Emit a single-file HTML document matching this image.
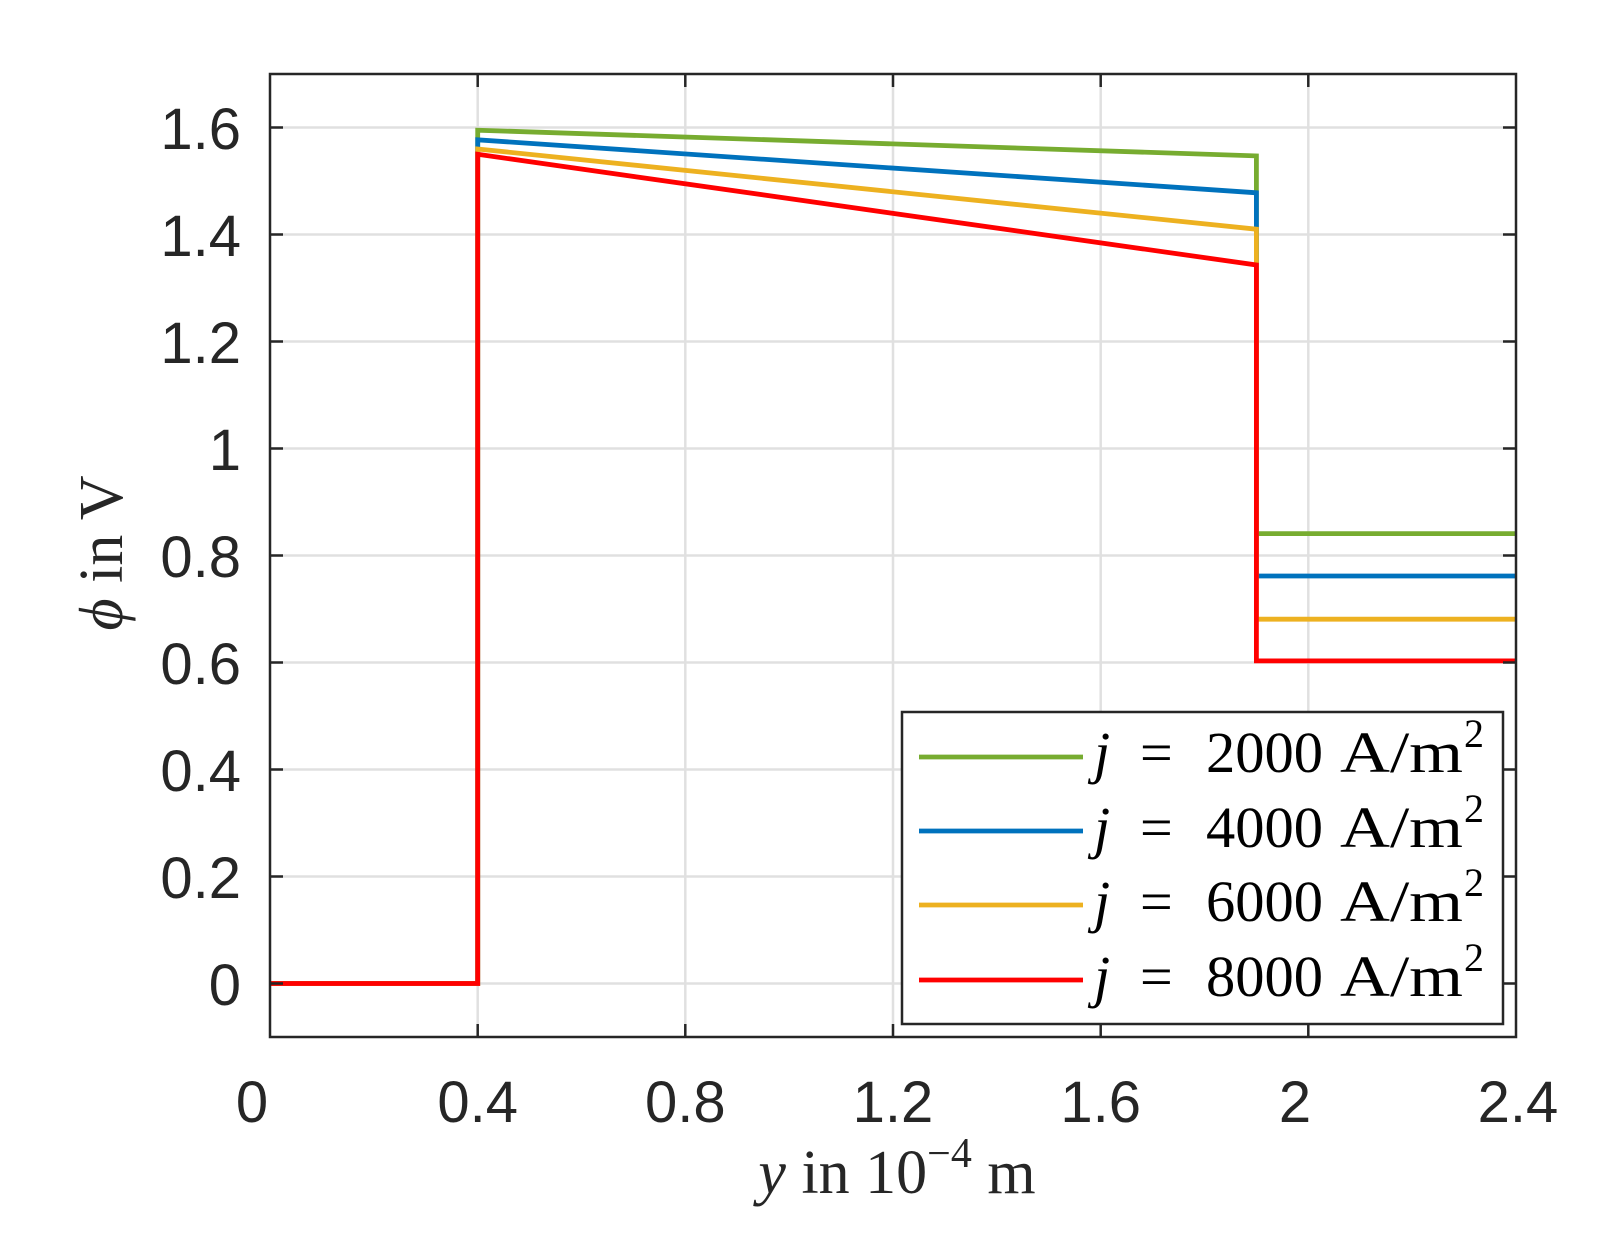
<!DOCTYPE html>
<html><head><meta charset="utf-8"><style>html,body{margin:0;padding:0;background:#fff}svg{display:block}</style></head>
<body>
<svg width="1620" height="1248" viewBox="0 0 1620 1248" xmlns="http://www.w3.org/2000/svg">
<rect width="1620" height="1248" fill="#fff"/>
<g stroke="#e0e0e0" stroke-width="2.5">
<line x1="477.7" y1="74" x2="477.7" y2="1037"/><line x1="685.3" y1="74" x2="685.3" y2="1037"/><line x1="893" y1="74" x2="893" y2="1037"/><line x1="1100.7" y1="74" x2="1100.7" y2="1037"/><line x1="1308.3" y1="74" x2="1308.3" y2="1037"/>
<line x1="270" y1="127.5" x2="1516" y2="127.5"/><line x1="270" y1="234.5" x2="1516" y2="234.5"/><line x1="270" y1="341.5" x2="1516" y2="341.5"/><line x1="270" y1="448.5" x2="1516" y2="448.5"/><line x1="270" y1="555.5" x2="1516" y2="555.5"/><line x1="270" y1="662.5" x2="1516" y2="662.5"/><line x1="270" y1="769.5" x2="1516" y2="769.5"/><line x1="270" y1="876.5" x2="1516" y2="876.5"/><line x1="270" y1="983.5" x2="1516" y2="983.5"/>
</g>
<g fill="none" stroke-width="4.8" stroke-linejoin="miter">
<polyline stroke="#77AC30" points="270,983.5 477.7,983.5 477.7,130.2 1256.4,155.9 1256.4,533.6 1516,533.6"/>
<polyline stroke="#0072BD" points="270,983.5 477.7,983.5 477.7,139.8 1256.4,192.8 1256.4,576 1516,576"/>
<polyline stroke="#EDB120" points="270,983.5 477.7,983.5 477.7,149 1256.4,229.2 1256.4,619.2 1516,619.2"/>
<polyline stroke="#FF0000" points="270,983.5 477.7,983.5 477.7,154.3 1256.4,265 1256.4,660.9 1516,660.9"/>
</g>
<g stroke="#262626" stroke-width="2.5">
<rect x="270" y="74" width="1246" height="963" fill="none"/>
<path d="M477.7,1037v-13M685.3,1037v-13M893,1037v-13M1100.7,1037v-13M1308.3,1037v-13M477.7,74v13M685.3,74v13M893,74v13M1100.7,74v13M1308.3,74v13"/>
<path d="M270,127.5h13M270,234.5h13M270,341.5h13M270,448.5h13M270,555.5h13M270,662.5h13M270,769.5h13M270,876.5h13M270,983.5h13M1516,127.5h-13M1516,234.5h-13M1516,341.5h-13M1516,448.5h-13M1516,555.5h-13M1516,662.5h-13M1516,769.5h-13M1516,876.5h-13M1516,983.5h-13"/>
</g>
<g font-family="Liberation Sans, sans-serif" font-size="58" fill="#262626">
<g text-anchor="end">
<text x="241" y="149">1.6</text><text x="241" y="256">1.4</text><text x="241" y="363">1.2</text><text x="241" y="470">1</text><text x="241" y="577">0.8</text><text x="241" y="684">0.6</text><text x="241" y="791">0.4</text><text x="241" y="898">0.2</text><text x="241" y="1005">0</text>
</g>
<g text-anchor="middle">
<text x="252" y="1122">0</text><text x="477.7" y="1122">0.4</text><text x="685.3" y="1122">0.8</text><text x="893" y="1122">1.2</text><text x="1100.7" y="1122">1.6</text><text x="1295" y="1122">2</text><text x="1518" y="1122">2.4</text>
</g>
</g>
<g font-family="Liberation Serif, serif" font-size="62" fill="#262626">
<text x="897" y="1193" text-anchor="middle"><tspan font-style="italic">y</tspan> in 10<tspan font-size="42" dy="-26">−4</tspan><tspan dy="26"> m</tspan></text>
<text transform="translate(122,553) rotate(-90)" text-anchor="middle"><tspan font-style="italic">ϕ</tspan> in V</text>
</g>
<rect x="902" y="712" width="601" height="312" fill="#fff" stroke="#262626" stroke-width="2.5"/>
<g stroke-width="4.8">
<line x1="919" y1="757" x2="1083" y2="757" stroke="#77AC30"/>
<line x1="919" y1="831" x2="1083" y2="831" stroke="#0072BD"/>
<line x1="919" y1="905" x2="1083" y2="905" stroke="#EDB120"/>
<line x1="919" y1="980" x2="1083" y2="980" stroke="#FF0000"/>
</g>
<g font-family="Liberation Serif, serif" font-size="58" fill="#000">
<g><text x="1094" y="772" font-style="italic">j</text><text x="1140" y="772">=</text><text x="1206" y="772" textLength="117" lengthAdjust="spacingAndGlyphs">2000</text><text x="1340" y="772" textLength="123" lengthAdjust="spacingAndGlyphs">A/m</text><text x="1464" y="747" font-size="40">2</text></g>
<g><text x="1094" y="847" font-style="italic">j</text><text x="1140" y="847">=</text><text x="1206" y="847" textLength="117" lengthAdjust="spacingAndGlyphs">4000</text><text x="1340" y="847" textLength="123" lengthAdjust="spacingAndGlyphs">A/m</text><text x="1464" y="822" font-size="40">2</text></g>
<g><text x="1094" y="921" font-style="italic">j</text><text x="1140" y="921">=</text><text x="1206" y="921" textLength="117" lengthAdjust="spacingAndGlyphs">6000</text><text x="1340" y="921" textLength="123" lengthAdjust="spacingAndGlyphs">A/m</text><text x="1464" y="896" font-size="40">2</text></g>
<g><text x="1094" y="996" font-style="italic">j</text><text x="1140" y="996">=</text><text x="1206" y="996" textLength="117" lengthAdjust="spacingAndGlyphs">8000</text><text x="1340" y="996" textLength="123" lengthAdjust="spacingAndGlyphs">A/m</text><text x="1464" y="971" font-size="40">2</text></g>
</g>
</svg>
</body></html>
